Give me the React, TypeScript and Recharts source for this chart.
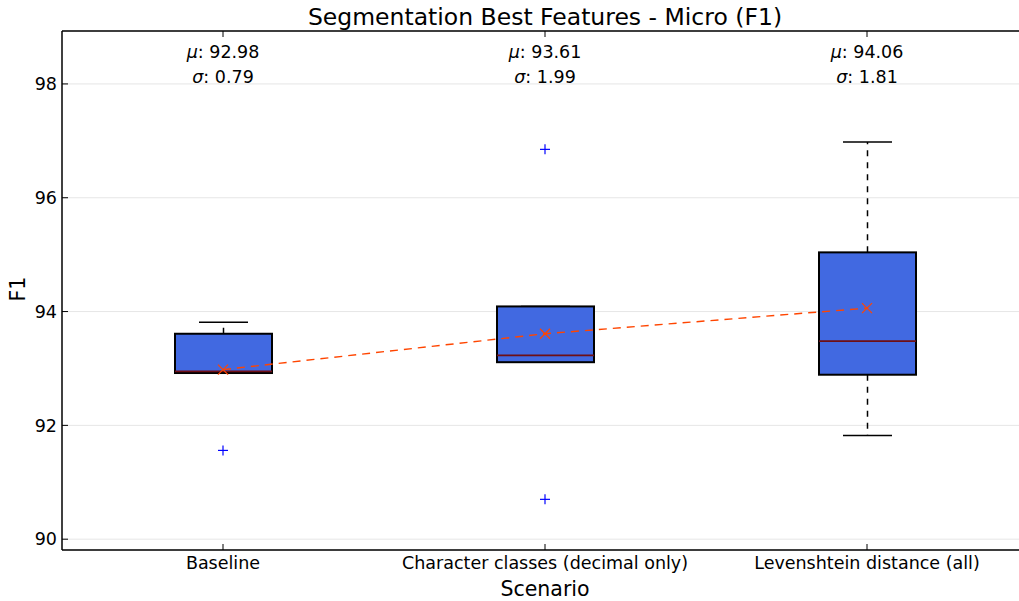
import { ComposedChart, Bar, Line, XAxis, YAxis, CartesianGrid } from 'recharts';

// box plot stats per scenario
const scenarios = ['Baseline', 'Character classes (decimal only)', 'Levenshtein distance (all)'];
const whiskerLow = [92.92, 93.11, 91.82];
const q1 = [92.92, 93.11, 92.89];
const median = [92.95, 93.23, 93.48];
const q3 = [93.61, 94.09, 95.04];
const whiskerHigh = [93.81, 94.09, 96.98];
const means = [92.98, 93.61, 94.06];
const stdDevs = [0.79, 1.99, 1.81];
const outliersHigh = [null, 96.85, null];
const outliersLow = [91.56, 90.7, null];
const yTicks = [90, 92, 94, 96, 98];

const data = scenarios.map((name, i) => ({
  name,
  range: [whiskerLow[i], whiskerHigh[i]],
  lo: whiskerLow[i],
  q1: q1[i],
  med: median[i],
  q3: q3[i],
  hi: whiskerHigh[i],
  mean: means[i],
  std: stdDevs[i],
  outHi: outliersHigh[i],
  outLo: outliersLow[i],
}));

const FONT = '"DejaVu Sans", sans-serif';
const TICK_SIZE = 17.5;

const BoxShape = (props: any) => {
  const { x, y, width, height, payload } = props;
  const { lo, q1, med, q3, hi } = payload;
  // map a value to pixels using the bar's own [lo, hi] extent
  const py = (v: number) => y + ((hi - v) / (hi - lo)) * height;
  const cx = x + width / 2;
  const cap = 24.5;
  return (
    <g>
      {/* whiskers */}
      <line x1={cx} x2={cx} y1={py(q1)} y2={py(lo)} stroke="#000" strokeWidth={1.5} strokeDasharray="6 6" />
      <line x1={cx} x2={cx} y1={py(q3)} y2={py(hi)} stroke="#000" strokeWidth={1.5} strokeDasharray="6 6" />
      <line x1={cx - cap} x2={cx + cap} y1={py(lo)} y2={py(lo)} stroke="#000" strokeWidth={1.5} />
      <line x1={cx - cap} x2={cx + cap} y1={py(hi)} y2={py(hi)} stroke="#000" strokeWidth={1.5} />
      {/* box */}
      <rect x={x} y={py(q3)} width={width} height={py(q1) - py(q3)} fill="#4169E1" stroke="#000" strokeWidth={2} />
      {/* median */}
      <line x1={x} x2={x + width} y1={py(med)} y2={py(med)} stroke="#6e0f16" strokeWidth={1.8} />
    </g>
  );
};

const PlusDot = (props: any) => {
  const { cx, cy, value } = props;
  if (cy == null || value == null) return <g />;
  return (
    <g>
      <line x1={cx - 5} x2={cx + 5} y1={cy} y2={cy} stroke="#0000FF" strokeWidth={1.2} />
      <line x1={cx} x2={cx} y1={cy - 5} y2={cy + 5} stroke="#0000FF" strokeWidth={1.2} />
    </g>
  );
};

const CrossDot = (props: any) => {
  const { cx, cy } = props;
  if (cy == null) return <g />;
  return (
    <g>
      <line x1={cx - 5} x2={cx + 5} y1={cy - 5} y2={cy + 5} stroke="#FF4500" strokeWidth={1.2} />
      <line x1={cx - 5} x2={cx + 5} y1={cy + 5} y2={cy - 5} stroke="#FF4500" strokeWidth={1.2} />
    </g>
  );
};

// top axis tick: mean / std text inside the plot
const StatsTick = (props: any) => {
  const { x, y, index } = props;
  const d = data[index];
  if (!d) return <g />;
  return (
    <g>
      <text x={x} y={y + 21} textAnchor="middle" fontSize={TICK_SIZE} fontFamily={FONT} fill="#000">
        <tspan fontStyle="italic">μ</tspan>: {d.mean.toFixed(2)}
      </text>
      <text x={x} y={y + 46} textAnchor="middle" fontSize={TICK_SIZE} fontFamily={FONT} fill="#000">
        <tspan fontStyle="italic">σ</tspan>: {d.std.toFixed(2)}
      </text>
    </g>
  );
};

export default function App() {
  return (
    <div style={{ position: 'absolute', left: 0, top: 0, width: 1019, height: 601, overflow: 'hidden', background: '#fff', fontFamily: FONT }}>
      <ComposedChart
        width={1040}
        height={601}
        data={data}
        margin={{ top: 0, right: 12, bottom: 0, left: 0 }}
      >
        <CartesianGrid vertical={false} stroke="#e6e6e6" strokeWidth={1} />
        <XAxis
          dataKey="name"
          height={51}
          axisLine={{ stroke: '#000', strokeWidth: 1.5 }}
          tickLine={{ stroke: '#000' }}
          tickSize={-6}
          tickMargin={13}
          tick={{ fill: '#000', fontSize: TICK_SIZE, fontFamily: FONT }}
          interval={0}
        />
        <XAxis
          xAxisId="top"
          dataKey="name"
          orientation="top"
          height={31}
          axisLine={{ stroke: '#000', strokeWidth: 1.5 }}
          tickLine={{ stroke: '#000' }}
          tickSize={-6}
          tickMargin={0}
          tick={<StatsTick />}
          interval={0}
        />
        <YAxis
          width={62}
          domain={[89.81, 98.93]}
          ticks={yTicks}
          allowDataOverflow
          axisLine={{ stroke: '#000', strokeWidth: 1.5 }}
          tickLine={{ stroke: '#000' }}
          tickSize={-6}
          tickMargin={11}
          tick={{ fill: '#000', fontSize: TICK_SIZE, fontFamily: FONT }}
        />
        <Bar dataKey="range" barSize={97} shape={<BoxShape />} isAnimationActive={false} />
        <Line
          dataKey="mean"
          stroke="#FF4500"
          strokeWidth={1.4}
          strokeDasharray="8 6"
          dot={<CrossDot />}
          activeDot={false}
          isAnimationActive={false}
        />
        <Line dataKey="outHi" stroke="none" dot={<PlusDot />} activeDot={false} isAnimationActive={false} />
        <Line dataKey="outLo" stroke="none" dot={<PlusDot />} activeDot={false} isAnimationActive={false} />
      </ComposedChart>
      <div style={{ position: 'absolute', left: 0, top: 3, width: 1090, textAlign: 'center', fontSize: 23.5, lineHeight: '28px', color: '#000' }}>
        Segmentation Best Features - Micro (F1)
      </div>
      <div style={{ position: 'absolute', left: 0, top: 577, width: 1090, textAlign: 'center', fontSize: 20.5, lineHeight: '24px', color: '#000' }}>
        Scenario
      </div>
      <div style={{ position: 'absolute', left: 18, top: 289, fontSize: 20.5, lineHeight: '24px', color: '#000', transform: 'translate(-50%, -50%) rotate(-90deg)' }}>
        F1
      </div>
    </div>
  );
}
